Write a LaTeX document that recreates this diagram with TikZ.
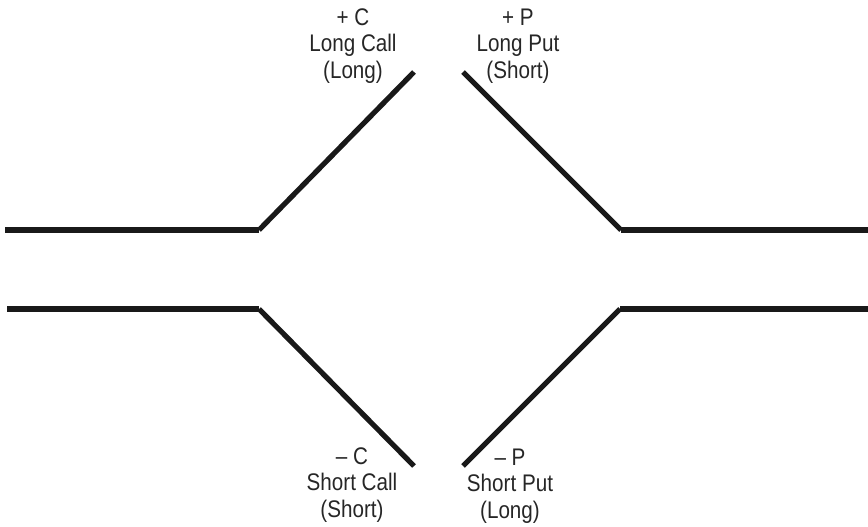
\documentclass[tikz,border=0pt]{standalone}
\usepackage{fontspec}
\setmainfont{Liberation Sans}[FakeStretch=0.86]
\begin{document}
\begin{tikzpicture}[x=1pt,y=-1pt,
  flat/.style={line width=6pt,line cap=butt,color=black!90},
  slant/.style={line width=5.2pt,line cap=butt,color=black!90},
  lbl/.style={align=center,inner sep=0pt,font=\fontsize{24}{26.5}\selectfont,text=black!85}]
\useasboundingbox (0,0) rectangle (868,527);
% top payoff
\coordinate (tl0) at (5,230);
\coordinate (tl1) at (259,230);
\coordinate (tl2) at (414,72);
\coordinate (tr0) at (463,72);
\coordinate (tr1) at (621,230);
\coordinate (tr2) at (868,230);
% bottom payoff
\coordinate (bl0) at (7,309);
\coordinate (bl1) at (259,309);
\coordinate (bl2) at (414,466);
\coordinate (br0) at (463,466);
\coordinate (br1) at (620,309);
\coordinate (br2) at (868,309);
\draw[flat] (tl0) -- (tl1);
\draw[slant] (tl1) -- (tl2);
\draw[slant] (tr0) -- (tr1);
\draw[flat] (tr1) -- (tr2);
\draw[flat] (bl0) -- (bl1);
\draw[slant] (bl1) -- (bl2);
\draw[slant] (br0) -- (br1);
\draw[flat] (br1) -- (br2);
% labels
\node[lbl,anchor=base] (lc) at (353,78) {+ C\\Long Call\\(Long)};
\node[lbl,anchor=base] (lp) at (518,78) {+ P\\Long Put\\(Short)};
\node[lbl,anchor=base] (sc) at (352,517) {– C\\Short Call\\(Short)};
\node[lbl,anchor=base] (sp) at (510,518) {– P\\Short Put\\(Long)};
\end{tikzpicture}
\end{document}
